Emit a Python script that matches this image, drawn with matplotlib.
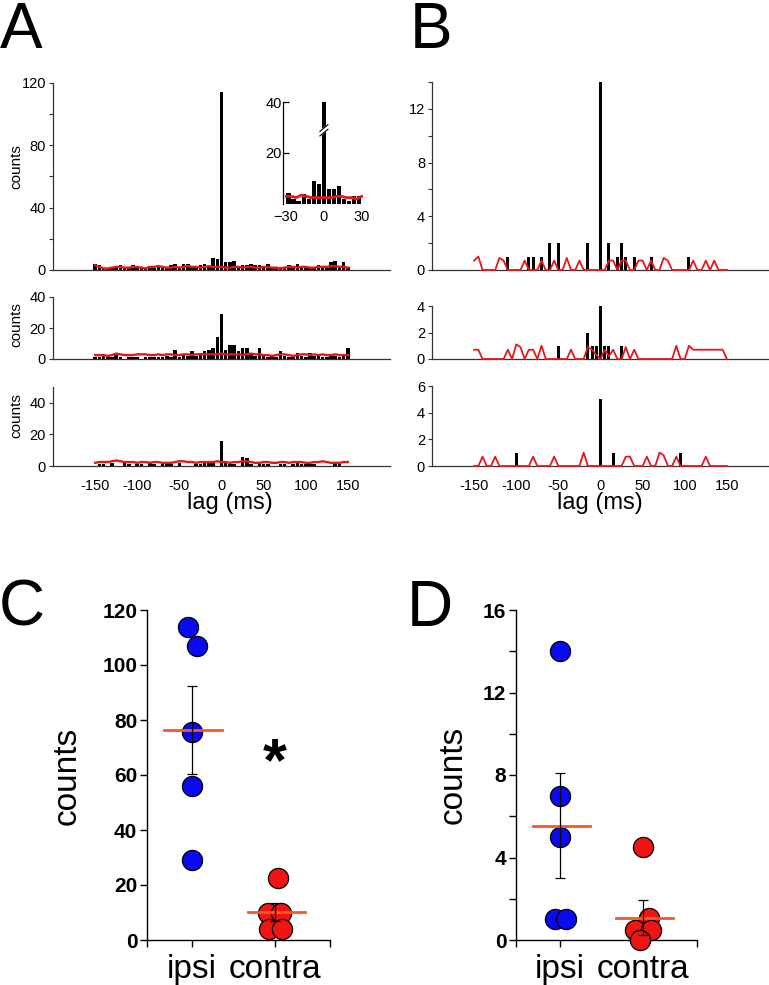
import numpy as np
import matplotlib
matplotlib.use('Agg')
import matplotlib.pyplot as plt

plt.rcParams['font.family'] = ['Liberation Sans', 'DejaVu Sans']

# ---------------- data ----------------
lags = np.arange(-150, 151, 5)

A_top_counts = [4, 3, 1, 1, 2, 2, 3, 2, 1, 3,
                2, 2, 1, 2, 1, 2, 2, 1, 3, 4,
                2, 4, 4, 2, 1, 3, 4, 2, 8, 7,
                114, 5, 5, 6, 2, 3, 3, 4, 3, 3,
                2, 4, 2, 1, 2, 2, 3, 2, 4, 2,
                1, 2, 2, 3, 2, 1, 5, 6, 2, 5, 2]
A_top_red = [3, 2, 1, 1, 1.5, 2, 2, 1.5, 1.5, 2,
             2, 1.5, 1, 2, 2, 2.5, 2, 1.5, 1.5, 2,
             1.5, 2, 2.5, 2, 2, 1.5, 2, 2.5, 2, 2,
             2, 1.5, 1.5, 2, 2, 1.5, 2, 2, 1.5, 1.5,
             2, 2, 1.5, 1.5, 1, 1.5, 2, 2, 1.5, 2,
             2, 1.5, 1.5, 2, 2, 2, 2.5, 2.5, 2, 2, 1.5]

A_mid_counts = [1, 1, 2, 1, 1, 3, 1, 0, 1, 1,
                1, 0, 1, 1, 1, 1, 1, 2, 1, 6,
                1, 3, 2, 5, 2, 4, 5, 6, 7, 14,
                29, 6, 9, 9, 5, 7, 7, 3, 2, 7,
                2, 1, 2, 1, 5, 2, 1, 1, 4, 2,
                1, 4, 2, 3, 1, 1, 2, 2, 1, 3, 7]
A_mid_red = [2.5, 2.5, 2.5, 2, 2.5, 3.5, 3, 2.5, 2.5, 2.5,
             3, 3, 3, 2.5, 2.5, 3, 2.5, 3, 3, 2.5,
             2.5, 3, 3, 2.5, 3, 3, 3, 3, 3, 3,
             3.5, 3, 3, 3, 3, 2.5, 3, 3.5, 3, 3,
             2.5, 2.5, 2, 2.5, 3, 3, 2.5, 2, 2.5, 3,
             3, 2.5, 3, 2.5, 3, 2.5, 2.5, 3, 2.5, 2.5, 2.5]

A_bot_counts = [0, 1, 1, 0, 2, 0, 0, 2, 1, 0,
                1, 1, 0, 2, 1, 0, 1, 1, 1, 0,
                2, 0, 0, 0, 1, 1, 3, 3, 3, 0,
                16, 2, 1, 1, 0, 6, 5, 1, 0, 2,
                1, 1, 0, 0, 1, 1, 0, 1, 2, 1,
                1, 1, 1, 0, 0, 0, 0, 1, 1, 0, 0]
A_bot_red = [2, 2.5, 2.5, 2.5, 3, 3.5, 3, 2.5, 2.5, 2.5,
             2, 2.5, 2.5, 2, 2.5, 2.5, 2, 2, 2, 2.5,
             3, 3, 2.5, 2.5, 2, 2.5, 2.5, 2.5, 2.5, 3,
             2.5, 2.5, 2, 2.5, 2.5, 3, 3, 2.5, 2, 2,
             2.5, 2.5, 2, 2, 2.5, 2.5, 2, 2.5, 2.5, 2.5,
             2, 2, 2.5, 2.5, 3, 2.5, 2, 2, 2, 2.5, 2.5]

# inset (lags in ms, 4-ms bins)
inset_lags = [-28, -24, -20, -16, -12, -8, -4, 0, 4, 8, 12, 16, 20, 24, 28]
inset_counts = [4.5, 2, 1, 4, 2, 9, 8, 40, 6, 6, 7, 2, 1, 3, 3]
inset_red_lags = [-30, -26, -22, -18, -14, -10, -6, -2, 2, 6, 10, 14, 18, 22, 26, 30]
inset_red = [3, 3, 2.5, 3.5, 3, 2.5, 2.5, 2.5, 2.5, 2.5, 3, 3, 2.5, 2.5, 2, 3]

# B panels (sparse non-zero bins)
B_top_lags = [-110, -85, -80, -70, -60, -50, -15, 0, 10, 20, 25, 30, 40, 60, 105]
B_top_counts = [1, 1, 1, 1, 2, 2, 2, 14, 2, 1, 2, 1, 1, 1, 1]
B_top_red = [0.7, 1.0, 0, 0, 0, 0, 0.9, 0.7, 0, 0,
             0, 0, 0.7, 0, 0, 0, 0.7, 0, 0, 0.7,
             0, 0, 0.9, 0, 0, 0.7, 0, 0, 0, 0,
             0, 0, 0.7, 0.7, 0, 0.7, 0.7, 0, 0, 0.7,
             0.7, 0, 0.7, 0, 0, 0.9, 0.7, 0, 0, 0,
             0, 0, 0.7, 0, 0, 0.7, 0, 0.7, 0, 0, 0]

B_mid_lags = [-50, -15, -10, -5, 0, 5, 10, 25]
B_mid_counts = [1, 2, 1, 1, 4, 1, 1, 1]
B_mid_red = [0.7, 0.7, 0, 0, 0, 0, 0, 0, 0.7, 0,
             1.1, 0.9, 0, 0.7, 0.7, 0, 1.0, 0, 0, 0,
             0, 0, 0, 0.7, 0, 0, 0, 0.9, 0.7, 0.3,
             0, 0.7, 0.2, 0.7, 0, 0, 0.9, 0, 0.7, 0,
             0, 0, 0, 0, 0, 0, 0, 0, 1.0, 0,
             0, 1.0, 0.7, 0.7, 0.7, 0.7, 0.7, 0.7, 0.7, 0.7, 0]

B_bot_lags = [-100, 0, 15, 95]
B_bot_counts = [1, 5, 1, 1]
B_bot_red = [0, 0, 0.7, 0, 0, 0.7, 0, 0, 0, 0,
             0, 0, 0, 0, 0.7, 0, 0, 0, 0, 0.7,
             0, 0, 0, 0, 0, 0, 1.0, 0, 0, 0,
             0, 0, 0, 0, 0, 0, 0.7, 0.7, 0, 0,
             0, 0.7, 0, 0, 1.0, 0.8, 0, 0, 0.7, 0,
             0, 0, 0, 0, 0, 0.7, 0, 0, 0, 0, 0]

# C / D scatter
groups = ['ipsi', 'contra']
C_ipsi = [114, 107, 75.5, 56, 29]
C_ipsi_x = [0.95, 1.06, 1.0, 1.0, 1.0]
C_contra = [22.4, 10, 10, 4, 4]
C_contra_x = [2.04, 1.92, 2.07, 1.93, 2.08]
C_mean = [76.4, 10.1]
C_sem = [16.0, 3.2]

D_ipsi = [14, 7, 5, 1, 1]
D_ipsi_x = [1.0, 1.0, 1.0, 0.94, 1.07]
D_contra = [4.5, 1.05, 0.5, 0.5, 0]
D_contra_x = [2.0, 2.07, 1.9, 2.1, 1.96]
D_mean = [5.55, 1.08]
D_sem = [2.53, 0.86]

# ---------------- figure ----------------
W, H = 769, 985
fig = plt.figure(figsize=(W / 100, H / 100), dpi=100)


def add_ax(l, t, r, b):
    return fig.add_axes([l / W, 1 - b / H, (r - l) / W, (b - t) / H])


RED = '#e8161b'
TICKFS = 10.5


def style_hist(ax, ymax, yticks, ylabels, xlabels):
    ax.set_xlim(-200, 200)
    ax.set_ylim(0, ymax)
    for s in ['top', 'right']:
        ax.spines[s].set_visible(False)
    for s in ['left', 'bottom']:
        ax.spines[s].set_linewidth(0.9)
        ax.spines[s].set_color('#333333')
    ax.set_yticks(yticks)
    ax.set_yticklabels(ylabels)
    ax.tick_params(axis='y', length=3, width=0.8, pad=2, labelsize=TICKFS, color='#333333')
    ax.set_xticks([-150, -100, -50, 0, 50, 100, 150])
    if xlabels:
        ax.set_xticklabels(['-150', '-100', '-50', '0', '50', '100', '150'])
    else:
        ax.set_xticklabels([])
    ax.tick_params(axis='x', length=0, pad=9, labelsize=TICKFS)
    ax.patch.set_alpha(0)


def hist_full(ax, counts, red, redlw):
    ax.bar(lags, counts, width=4.2, color='black', edgecolor='none', zorder=2)
    ax.plot(lags, red, color=RED, lw=redlw, zorder=3, clip_on=False)


def hist_sparse(ax, blags, bcounts, red):
    ax.bar(blags, bcounts, width=3.6, color='black', edgecolor='none', zorder=2)
    ax.plot(lags, red, color=RED, lw=1.3, zorder=3, clip_on=False)


# Panel A
axA1 = add_ax(53, 83, 390, 270)
hist_full(axA1, A_top_counts, A_top_red, 1.7)
style_hist(axA1, 120, [0, 20, 40, 60, 80, 100, 120], ['0', '', '40', '', '80', '', '120'], False)

axA2 = add_ax(53, 297, 390, 359)
hist_full(axA2, A_mid_counts, A_mid_red, 1.7)
style_hist(axA2, 40, [0, 20, 40], ['0', '20', '40'], False)

axA3 = add_ax(53, 387, 390, 466)
hist_full(axA3, A_bot_counts, A_bot_red, 1.7)
style_hist(axA3, 50, [0, 20, 40], ['0', '20', '40'], True)

for y in [167, 325, 416]:
    fig.text(16 / W, 1 - y / H, 'counts', rotation=90, ha='center', va='center', fontsize=11)
fig.text(230 / W, 1 - 503 / H, 'lag (ms)', ha='center', va='center', fontsize=17)

# inset
axI = add_ax(283, 102, 363, 204)
axI.bar(inset_lags, inset_counts, width=3.6, color='black', edgecolor='none', zorder=2)
axI.plot(inset_red_lags, inset_red, color=RED, lw=2.0, zorder=3)
axI.set_xlim(-32.5, 31)
axI.set_ylim(0, 40)
for s in ['top', 'right', 'bottom']:
    axI.spines[s].set_visible(False)
axI.spines['left'].set_linewidth(0.9)
axI.set_yticks([20, 40])
axI.set_xticks([-30, 0, 30])
axI.tick_params(axis='y', length=4, width=0.9, pad=1, labelsize=TICKFS, direction='in')
axI.tick_params(axis='x', length=0, pad=4, labelsize=TICKFS)
axI.set_yticklabels(['20', '40'])
# axis-break marks on the central bar
bx = np.array([-3.2, 3.2])
axI.plot(bx, np.array([27.6, 30.2]), color='white', lw=3.5, zorder=4, solid_capstyle='butt')
for off in [-0.9, 0.9]:
    axI.plot(bx, np.array([27.6, 30.2]) + off, color='black', lw=0.8, zorder=5)

# Panel B
axB1 = add_ax(432, 82, 769, 270)
hist_sparse(axB1, B_top_lags, B_top_counts, B_top_red)
style_hist(axB1, 14, list(range(0, 15, 2)), ['0', '', '4', '', '8', '', '12', ''], False)

axB2 = add_ax(432, 306, 769, 359)
hist_sparse(axB2, B_mid_lags, B_mid_counts, B_mid_red)
style_hist(axB2, 4, [0, 2, 4], ['0', '2', '4'], False)

axB3 = add_ax(432, 386, 769, 466)
hist_sparse(axB3, B_bot_lags, B_bot_counts, B_bot_red)
style_hist(axB3, 6, [0, 2, 4, 6], ['0', '2', '4', '6'], True)

fig.text(600 / W, 1 - 503 / H, 'lag (ms)', ha='center', va='center', fontsize=17)

# panel letters
for lab, x, y in [('A', 0, 1), ('B', 410, 1), ('C', -1, 579), ('D', 407, 579)]:
    fig.text(x / W, 1 - y / H, lab, ha='left', va='top', fontsize=46)

BLUE = '#0a0af0'
CRED = '#f01414'
MEANC = '#f25a2a'


def scatter_panel(ax, ipsi, ipsi_x, contra, contra_x, mean, sem, ymax, yticks, ylabels, xl):
    ax.plot(ipsi_x, ipsi, 'o', ms=14.5, mfc=BLUE, mec='black', mew=0.9, zorder=3, ls='none', clip_on=False)
    ax.plot(contra_x, contra, 'o', ms=14.5, mfc=CRED, mec='black', mew=0.9, zorder=3, ls='none', clip_on=False)
    for i, xc in enumerate([1, 2]):
        ax.plot([xc - 0.33, xc + 0.36], [mean[i], mean[i]], color=MEANC, lw=2.0, zorder=4)
        ax.errorbar([xc], [mean[i]], yerr=[sem[i]], fmt='none', ecolor='black', elinewidth=0.9,
                    capsize=3.5, capthick=0.9, zorder=5)
    ax.set_xlim(*xl)
    ax.set_ylim(0, ymax)
    for s in ['top', 'right']:
        ax.spines[s].set_visible(False)
    for s in ['left', 'bottom']:
        ax.spines[s].set_linewidth(1.0)
    ax.set_yticks(yticks)
    ax.set_yticklabels(ylabels, fontweight='bold')
    ax.tick_params(axis='y', length=5, width=1.0, pad=2, labelsize=15)
    ax.set_xticks([xl[0], 1, 2, xl[1]])
    ax.set_xticklabels(['', groups[0], groups[1], ''])
    ax.tick_params(axis='x', length=5, width=1.0, pad=5, labelsize=24)
    ax.patch.set_alpha(0)


axC = add_ax(147, 610, 330, 940)
scatter_panel(axC, C_ipsi, C_ipsi_x, C_contra, C_contra_x, C_mean, C_sem, 120,
              [0, 20, 40, 60, 80, 100, 120], ['0', '20', '40', '60', '80', '100', '120'], (0.46, 2.66))
axC.text(2.0, 58, '*', ha='center', va='baseline', fontsize=44, fontweight='bold')
fig.text(67 / W, 1 - 776 / H, 'counts', rotation=90, ha='center', va='center', fontsize=24)

axD = add_ax(516, 610, 697, 940)
scatter_panel(axD, D_ipsi, D_ipsi_x, D_contra, D_contra_x, D_mean, D_sem, 16,
              list(range(0, 17, 2)), ['0', '', '4', '', '8', '', '12', '', '16'], (0.47, 2.65))
fig.text(453 / W, 1 - 775 / H, 'counts', rotation=90, ha='center', va='center', fontsize=24)

fig.savefig('out.png', dpi=100)
